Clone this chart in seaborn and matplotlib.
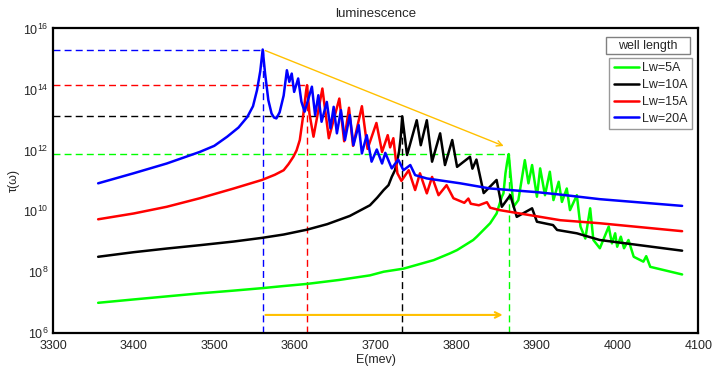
import numpy as np
import pandas as pd
import matplotlib
matplotlib.use('Agg')
import matplotlib.pyplot as plt
import seaborn as sns
from matplotlib.lines import Line2D
from matplotlib.patches import Rectangle

# 곡선 데이터: 에너지(mev)와 log10(tau) 값
e_blue = [3356, 3400, 3441, 3482, 3500, 3516, 3530, 3541, 3548, 3553, 3557, 3560,
          3563, 3567, 3571, 3574, 3577, 3581, 3586, 3590, 3593, 3596, 3599, 3604,
          3608, 3612, 3621, 3625, 3629, 3633, 3639.5, 3644, 3648, 3652, 3657, 3662,
          3668, 3672.5, 3679, 3683, 3689, 3695, 3701.5, 3708, 3712, 3720, 3728, 3734.5,
          3743, 3749, 3763.5, 3805, 3842, 3900, 3929, 3978, 4080]
log_blue = [10.92, 11.25, 11.57, 11.95, 12.15, 12.45, 12.75, 13.10, 13.45, 13.98, 14.60, 15.31,
            14.52, 13.65, 13.21, 13.08, 13.05, 13.25, 13.80, 14.63, 14.25, 14.52, 13.92, 14.36,
            13.60, 13.27, 14.09, 13.16, 13.81, 12.94, 13.59, 12.72, 13.43, 12.56, 13.32, 12.34,
            13.16, 12.17, 12.83, 11.90, 12.50, 11.63, 12.03, 11.57, 11.92, 11.41, 11.70, 11.35,
            11.52, 11.19, 11.08, 10.92, 10.75, 10.63, 10.55, 10.40, 10.18]

e_red = [3356, 3400, 3441, 3482, 3524, 3559, 3575, 3586, 3592, 3598, 3602, 3606,
         3610, 3614, 3615, 3618, 3623, 3634, 3642, 3655, 3661, 3667, 3672, 3683,
         3690, 3701, 3708, 3715, 3718, 3722, 3727, 3732, 3741, 3749, 3755, 3763.5,
         3770, 3778, 3788, 3796.5, 3810, 3815, 3818, 3828, 3838, 3842, 3854, 3929,
         3978, 4080]
log_red = [9.74, 9.93, 10.15, 10.43, 10.75, 11.03, 11.20, 11.35, 11.55, 11.79, 12.00, 12.34,
           13.10, 13.98, 14.14, 13.20, 12.45, 14.03, 12.40, 13.70, 12.30, 13.40, 12.15, 13.45,
           12.05, 12.90, 11.95, 12.50, 12.10, 12.40, 11.25, 11.00, 11.35, 10.70, 11.25, 10.59,
           11.13, 10.53, 10.86, 10.43, 10.28, 10.42, 10.25, 10.20, 10.30, 10.12, 10.04, 9.71,
           9.61, 9.35]

e_black = [3356, 3400, 3441, 3482, 3524, 3559, 3586, 3615, 3640, 3668, 3693, 3702,
           3710, 3716, 3720, 3724, 3726, 3729, 3731, 3733, 3739, 3751, 3756, 3763.5,
           3770, 3780, 3786, 3795, 3801, 3817, 3820, 3825, 3834, 3850, 3856.5, 3867,
           3875, 3894, 3900, 3920, 3925, 3949.5, 3978, 4080]
log_black = [8.51, 8.66, 8.78, 8.89, 9.01, 9.13, 9.24, 9.40, 9.58, 9.85, 10.20, 10.45,
             10.70, 10.86, 11.13, 11.35, 11.57, 11.95, 12.40, 13.12, 11.85, 12.99, 12.17, 12.99,
             11.63, 12.56, 11.52, 12.34, 11.46, 11.79, 11.40, 11.70, 10.60, 11.03, 10.15, 10.53,
             9.82, 10.10, 9.66, 9.55, 9.39, 9.28, 9.06, 8.71]

e_green = [3356, 3400, 3441, 3482, 3524, 3559, 3586, 3615, 3655, 3693, 3710, 3734.5,
           3772, 3792, 3801, 3821, 3825.5, 3842, 3850, 3856.5, 3858.5, 3861, 3863, 3865,
           3871, 3877, 3885, 3889.5, 3894, 3900, 3904, 3910, 3916, 3920.5, 3927, 3931,
           3937, 3941, 3949.5, 3954, 3960, 3966, 3970, 3978, 3989, 3993, 3997, 3999.5,
           4004, 4008, 4013.5, 4020, 4032, 4035.5, 4040.5, 4080]
log_green = [7.00, 7.11, 7.21, 7.31, 7.40, 7.48, 7.55, 7.62, 7.75, 7.90, 8.02, 8.12,
             8.40, 8.62, 8.73, 9.06, 9.17, 9.61, 9.93, 10.48, 10.59, 11.25, 11.60, 11.88,
             10.15, 10.37, 11.68, 10.92, 11.52, 10.48, 11.41, 10.53, 11.30, 10.37, 10.97, 10.31,
             10.75, 10.04, 10.53, 9.50, 9.11, 10.10, 9.06, 8.79, 9.50, 8.95, 9.28, 8.84,
             9.17, 8.79, 9.06, 8.51, 8.35, 8.53, 8.18, 7.93]

labels = ['Lw=5A', 'Lw=10A', 'Lw=15A', 'Lw=20A']
colors = ['#00ff00', '#000000', '#ff0000', '#0000ff']
xticks = [3300, 3400, 3500, 3600, 3700, 3800, 3900, 4000, 4100]
yticks = [1e6, 1e8, 1e10, 1e12, 1e14, 1e16]

curves = {'Lw=5A': (e_green, log_green), 'Lw=10A': (e_black, log_black),
          'Lw=15A': (e_red, log_red), 'Lw=20A': (e_blue, log_blue)}

frames = []
for name, (e, lg) in curves.items():
    frames.append(pd.DataFrame({'E': e, 'tau': 10 ** np.array(lg), 'Lw': name}))
df = pd.concat(frames, ignore_index=True)

sns.set_style('white')
plt.rcParams['font.family'] = ['Liberation Sans', 'DejaVu Sans']

fig = plt.figure(figsize=(7.13, 3.69), dpi=100)
ax = fig.add_axes([0.0743, 0.0968, 0.905, 0.826])

# 점선 (피크 위치 표시) - 곡선 아래에 먼저 그림
peaks = {}
for name, c in zip(labels, colors):
    sub = df[df['Lw'] == name]
    i = sub['tau'].idxmax()
    pe, pv = sub.loc[i, 'E'], sub.loc[i, 'tau']
    peaks[name] = (pe, pv)
    ax.plot([3300, pe], [pv, pv], '--', color=c, lw=1.0, dashes=(5, 3))
    ax.plot([pe, pe], [1e6, pv], '--', color=c, lw=1.0, dashes=(5, 3))

sns.lineplot(data=df, x='E', y='tau', hue='Lw', hue_order=labels,
             palette=colors, estimator=None, sort=True, lw=1.8,
             legend=False, ax=ax)

# 노란 화살표
yellow = '#ffc000'
b_e, b_v = peaks['Lw=20A']
g_e, g_v = peaks['Lw=5A']
ax.annotate('', xy=(g_e - 3, g_v * 1.7), xytext=(b_e, b_v),
            arrowprops=dict(arrowstyle='->', color=yellow, lw=1.0))
ax.annotate('', xy=(g_e - 4, 4e6), xytext=(b_e, 4e6),
            arrowprops=dict(arrowstyle='->', color=yellow, lw=1.5))

ax.set_yscale('log')
ax.set_xlim(3300, 4100)
ax.set_ylim(1e6, 1e16)
ax.set_xticks(xticks)
ax.set_yticks(yticks)
ax.minorticks_off()
ax.tick_params(direction='in', length=3, labelsize=9, width=0.8)
ax.tick_params(axis='x', pad=5)
ax.set_xlabel('E(mev)', fontsize=9, labelpad=1)
ax.set_ylabel('τ(ω)', fontsize=9, labelpad=2)
ax.set_title('luminescence', fontsize=9.5, pad=8)
for s in ax.spines.values():
    s.set_color('black')
    s.set_linewidth(1.6)

handles = [Line2D([0], [0], color=c, lw=1.8) for c in colors]
leg = ax.legend(handles, labels, loc='upper right', bbox_to_anchor=(0.99, 0.903),
                fontsize=9, frameon=True, fancybox=False, handlelength=2.0,
                handletextpad=0.25, borderpad=0.35, labelspacing=0.38,
                borderaxespad=0.0)
leg.get_frame().set_edgecolor('#808080')
leg.get_frame().set_linewidth(1.0)

# 범례 제목 상자 (별도 상자)
ax.add_patch(Rectangle((0.857, 0.915), 0.131, 0.056, transform=ax.transAxes,
                       fc='white', ec='#808080', lw=1.0, zorder=5))
ax.text(0.9225, 0.943, 'well length', transform=ax.transAxes, fontsize=9,
        ha='center', va='center', zorder=6)

fig.savefig('out.png', dpi=100)
